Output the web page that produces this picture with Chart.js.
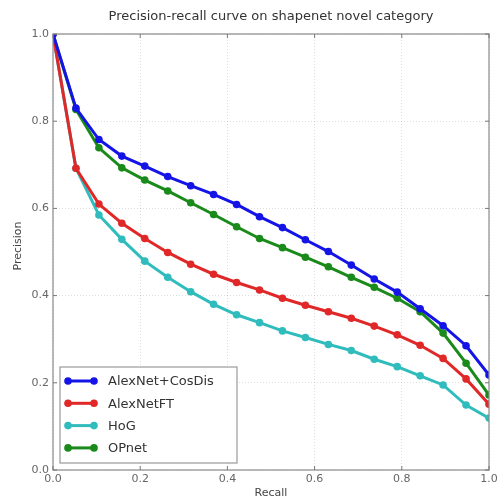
<!DOCTYPE html>
<html>
<head>
<meta charset="utf-8">
<script src="https://cdn.jsdelivr.net/npm/chart.js@4.4.1/dist/chart.umd.min.js"></script>
<style>
  html, body { margin: 0; padding: 0; background: #fff; }
  #wrap { width: 497px; height: 499px; }
</style>
</head>
<body>
<div id="wrap"><canvas id="pr"></canvas></div>
<script>
// recall: 20 evenly spaced points from 0 to 1
const RECALL = [0, 0.0526, 0.1053, 0.1579, 0.2105, 0.2632, 0.3158, 0.3684, 0.4211, 0.4737,
                0.5263, 0.5789, 0.6316, 0.6842, 0.7368, 0.7895, 0.8421, 0.8947, 0.9474, 1.0];

const SERIES_NAMES = ['AlexNet+CosDis', 'AlexNetFT', 'HoG', 'OPnet'];
const SERIES_COLORS = ['#1414e6', '#e02828', '#30bcbc', '#1a8a1a'];

const ALEXNET_COSDIS = [1.0, 0.83, 0.758, 0.72, 0.697, 0.673, 0.652, 0.632, 0.609, 0.581,
                        0.556, 0.528, 0.501, 0.470, 0.438, 0.408, 0.370, 0.331, 0.285, 0.218];
const ALEXNET_FT     = [1.0, 0.692, 0.610, 0.566, 0.531, 0.499, 0.472, 0.449, 0.430, 0.413,
                        0.394, 0.378, 0.363, 0.348, 0.330, 0.310, 0.286, 0.256, 0.209, 0.151];
const HOG            = [1.0, 0.692, 0.585, 0.529, 0.479, 0.442, 0.409, 0.380, 0.356, 0.338,
                        0.319, 0.304, 0.288, 0.274, 0.254, 0.237, 0.216, 0.195, 0.149, 0.119];
const OPNET          = [1.0, 0.827, 0.739, 0.693, 0.665, 0.640, 0.613, 0.586, 0.558, 0.531,
                        0.510, 0.488, 0.466, 0.442, 0.419, 0.394, 0.363, 0.314, 0.245, 0.172];

const X_TICKS = [0, 0.2, 0.4, 0.6, 0.8, 1.0];
const Y_TICKS = [0, 0.2, 0.4, 0.6, 0.8, 1.0];

const TITLE = 'Precision-recall curve on shapenet novel category';
const X_LABEL = 'Recall';
const Y_LABEL = 'Precision';

function pts(arr){ return arr.map((v,i) => ({ x: RECALL[i], y: v })); }

const allData = [ALEXNET_COSDIS, ALEXNET_FT, HOG, OPNET];

// title, axis labels, frame and the matplotlib-like legend box
const decor = {
  id: 'decor',
  afterDraw(chart){
    const ctx = chart.ctx, a = chart.chartArea;
    ctx.save();
    // frame
    ctx.strokeStyle = '#8a8a8a';
    ctx.lineWidth = 1.2;
    ctx.strokeRect(a.left, a.top, a.right - a.left, a.bottom - a.top);

    // small inward ticks
    ctx.strokeStyle = '#777';
    ctx.lineWidth = 1;
    const xs = chart.scales.x, ys = chart.scales.y;
    X_TICKS.forEach(t => {
      const px = xs.getPixelForValue(t);
      ctx.beginPath(); ctx.moveTo(px, a.bottom); ctx.lineTo(px, a.bottom - 4);
      ctx.moveTo(px, a.top); ctx.lineTo(px, a.top + 4); ctx.stroke();
    });
    Y_TICKS.forEach(t => {
      const py = ys.getPixelForValue(t);
      ctx.beginPath(); ctx.moveTo(a.left, py); ctx.lineTo(a.left + 4, py);
      ctx.moveTo(a.right, py); ctx.lineTo(a.right - 4, py); ctx.stroke();
    });

    // title
    ctx.fillStyle = '#333';
    ctx.font = '13px "DejaVu Sans"';
    ctx.textAlign = 'center';
    ctx.textBaseline = 'middle';
    ctx.fillText(TITLE, (a.left + a.right) / 2, 17);

    // axis labels
    ctx.font = '11px "DejaVu Sans"';
    ctx.fillStyle = '#444';
    ctx.fillText(X_LABEL, (a.left + a.right) / 2, 493);
    ctx.save();
    ctx.translate(18, (a.top + a.bottom) / 2 - 6);
    ctx.rotate(-Math.PI / 2);
    ctx.fillText(Y_LABEL, 0, 0);
    ctx.restore();

    // legend
    const lx = 60, ly = 367, lw = 177, lh = 96;
    ctx.fillStyle = '#fff';
    ctx.fillRect(lx, ly, lw, lh);
    ctx.strokeStyle = '#9a9a9a';
    ctx.lineWidth = 1.2;
    ctx.strokeRect(lx, ly, lw, lh);
    ctx.font = '13px "DejaVu Sans"';
    ctx.textAlign = 'left';
    SERIES_NAMES.forEach((name, i) => {
      const cy = 381 + i * 22.3;
      const c = SERIES_COLORS[i];
      ctx.strokeStyle = c; ctx.fillStyle = c; ctx.lineWidth = 3;
      ctx.beginPath(); ctx.moveTo(68, cy); ctx.lineTo(94, cy); ctx.stroke();
      [68, 94].forEach(px => { ctx.beginPath(); ctx.arc(px, cy, 3.8, 0, Math.PI * 2); ctx.fill(); });
      ctx.fillStyle = '#333';
      ctx.fillText(name, 108, cy + 1);
    });
    ctx.restore();
  }
};

new Chart(document.getElementById('pr'), {
  type: 'line',
  data: {
    datasets: SERIES_NAMES.map((name, i) => ({
      label: name,
      data: pts(allData[i]),
      borderColor: SERIES_COLORS[i],
      backgroundColor: SERIES_COLORS[i],
      borderWidth: 3,
      pointRadius: 3.8,
      pointBorderWidth: 0,
      pointHoverRadius: 3.8,
      tension: 0,
      fill: false
    }))
  },
  options: {
    responsive: true,
    maintainAspectRatio: false,
    animation: false,
    events: [],
    layout: { padding: { top: 34, right: 8, left: 0, bottom: 0 } },
    plugins: { legend: { display: false }, title: { display: false }, tooltip: { enabled: false } },
    scales: {
      x: {
        type: 'linear', min: 0, max: 1,
        afterBuildTicks: s => { s.ticks = X_TICKS.map(v => ({ value: v })); },
        afterFit: s => { s.height = 29; s.paddingLeft = 0; s.paddingRight = 0; },
        ticks: { color: '#666', font: { size: 11, family: 'DejaVu Sans' }, padding: 3,
                 callback: v => v.toFixed(1), maxRotation: 0 },
        grid: { color: 'rgba(0,0,0,0.13)', drawTicks: false, tickBorderDash: [1, 2] },
        border: { display: false, dash: [1, 2] }
      },
      y: {
        type: 'linear', min: 0, max: 1,
        afterBuildTicks: s => { s.ticks = Y_TICKS.map(v => ({ value: v })); },
        afterFit: s => { s.width = 53; s.paddingTop = 0; s.paddingBottom = 0; },
        ticks: { color: '#666', font: { size: 11, family: 'DejaVu Sans' }, padding: 4,
                 callback: v => v.toFixed(1) },
        grid: { color: 'rgba(0,0,0,0.13)', drawTicks: false },
        border: { display: false, dash: [1, 2] }
      }
    }
  },
  plugins: [decor]
});
</script>
</body>
</html>
